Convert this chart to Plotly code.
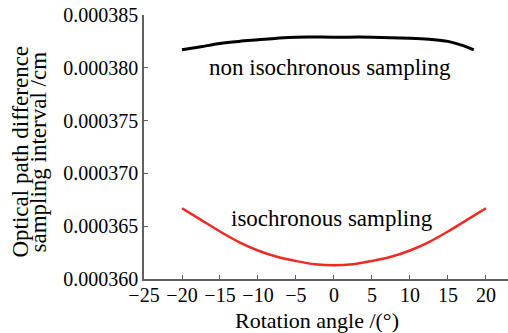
import plotly.graph_objects as go

angle_iso = [-20, -17.5, -15, -12.5, -10, -7.5, -5, -2.5, 0,
             2.5, 5, 7.5, 10, 12.5, 15, 17.5, 20]
iso_vals = [0.0003667, 0.0003656, 0.0003645, 0.0003635, 0.0003627, 0.0003621,
            0.0003617, 0.0003614, 0.0003613, 0.0003614, 0.0003617, 0.0003621,
            0.0003627, 0.0003635, 0.0003645, 0.0003656, 0.0003667]

angle_non = [-20, -17.5, -15, -12.5, -10, -7.5, -5, 0, 5, 10, 12.5, 15, 17, 18.4]
non_vals = [0.0003817, 0.0003820, 0.0003823, 0.0003825, 0.00038265, 0.0003828,
            0.0003829, 0.0003829, 0.0003829, 0.0003828, 0.0003827, 0.0003825,
            0.0003821, 0.0003817]

y_ticks = [0.000360, 0.000365, 0.000370, 0.000375, 0.000380, 0.000385]
x_ticks = [-25, -20, -15, -10, -5, 0, 5, 10, 15, 20]

FONT = "Liberation Serif"

fig = go.Figure()
fig.add_trace(go.Scatter(x=angle_non, y=non_vals, mode="lines",
                         line=dict(color="black", width=3, shape="spline"),
                         showlegend=False))
fig.add_trace(go.Scatter(x=angle_iso, y=iso_vals, mode="lines",
                         line=dict(color="#ee2a24", width=2.5, shape="spline"),
                         showlegend=False))

fig.add_annotation(x=-0.5, y=0.00038006, text="non isochronous sampling",
                   showarrow=False, font=dict(family=FONT, size=23, color="black"))
fig.add_annotation(x=-0.3, y=0.00036576, text="isochronous sampling",
                   showarrow=False, font=dict(family=FONT, size=23, color="black"))

# axis titles as annotations (tight two-line spacing)
fig.add_annotation(xref="paper", yref="paper", x=0, y=0.481, xanchor="center",
                   yanchor="middle", xshift=20.5 - 144, textangle=-90,
                   text="Optical path difference", showarrow=False,
                   font=dict(family=FONT, size=23, color="black"))
fig.add_annotation(xref="paper", yref="paper", x=0, y=0.481, xanchor="center",
                   yanchor="middle", xshift=38.5 - 144, textangle=-90,
                   text="sampling interval /cm", showarrow=False,
                   font=dict(family=FONT, size=23, color="black"))
fig.add_annotation(xref="paper", yref="paper", x=0.474, y=0, yshift=-41,
                   xanchor="center", yanchor="middle",
                   text="Rotation angle /(°)", showarrow=False,
                   font=dict(family=FONT, size=22, color="black"))

axis_common = dict(showgrid=False, zeroline=False, showline=True,
                   linecolor="#606060", linewidth=1.5, ticks="inside",
                   ticklen=4, tickwidth=1, tickcolor="#606060",
                   tickfont=dict(family=FONT, size=20, color="black"))

fig.update_xaxes(range=[-25, 22.9], tickvals=x_ticks, ticklabelstandoff=-3,
                 **axis_common)
fig.update_yaxes(range=[0.000360, 0.000385], tickvals=y_ticks,
                 tickformat=".6f", **axis_common)

fig.update_layout(width=508, height=333, margin=dict(l=144, r=0, t=15, b=54),
                  plot_bgcolor="white", paper_bgcolor="white",
                  font=dict(family=FONT))

fig.write_html("out.html")
